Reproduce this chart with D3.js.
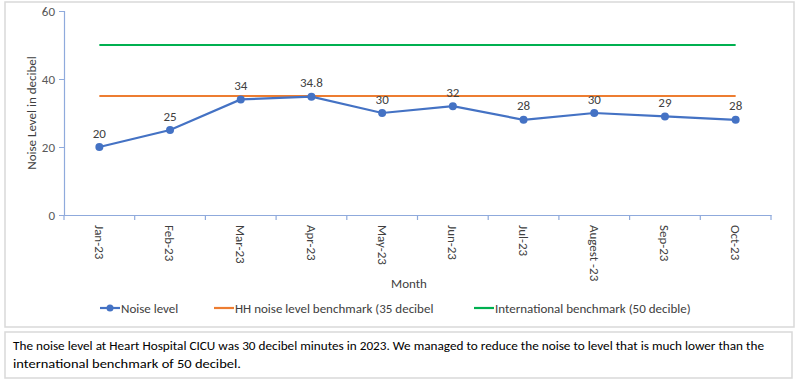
<!DOCTYPE html>
<html><head><meta charset="utf-8">
<script src="https://cdn.jsdelivr.net/npm/d3@7"></script>
<style>body{margin:0;background:#fff;}svg{display:block;}</style>
</head><body>
<svg id="c" width="800" height="381"></svg>
<script>
const months = ["Jan-23","Feb-23","Mar-23","Apr-23","May-23","Jun-23","Jul-23","Augest -23","Sep-23","Oct-23"];
const noiseLevel = [20,25,34,34.8,30,32,28,30,29,28];
const hhBenchmark = [35,35,35,35,35,35,35,35,35,35];
const intlBenchmark = [50,50,50,50,50,50,50,50,50,50];
const yTicks = [0,20,40,60];
const legendLabels = ["Noise level","HH noise level benchmark (35 decibel","International benchmark (50 decible)"];
const note = ["The noise level at Heart Hospital CICU was 30 decibel minutes in 2023. We managed to reduce the noise to level that is much lower than the","international benchmark of 50 decibel."];

const font = "Calibri, Carlito, 'Open Sans', 'Noto Sans', sans-serif";
const svg = d3.select("#c");
// chart border
svg.append("rect").attr("x",5).attr("y",2).attr("width",789).attr("height",325)
  .attr("fill","#fff").attr("stroke","#d9d9d9").attr("stroke-width",1.5);
svg.append("rect").attr("x",5).attr("y",332).attr("width",787).attr("height",46)
  .attr("fill","#fff").attr("stroke","#d9d9d9").attr("stroke-width",1.5);

const x = d3.scaleBand().domain(months).range([64,771]);
const y = d3.scaleLinear().domain([0,60]).range([215,11]);
const cx = d => x(d) + x.bandwidth()/2;

// y axis
const ya = svg.append("g").attr("transform","translate(64,0)")
  .call(d3.axisLeft(y).tickValues(yTicks).tickSize(5).tickPadding(4));
ya.select(".domain").attr("stroke","#8faadc").attr("stroke-width",1.2);
ya.selectAll(".tick line").attr("stroke","#8faadc");
ya.selectAll("text").attr("fill","#595959").style("font-family",font).style("font-size","13px");

// x axis
const xa = svg.append("g").attr("transform","translate(0,215)")
  .call(d3.axisBottom(x).tickSize(0).tickPadding(0));
xa.select(".domain").attr("stroke","#8faadc").attr("stroke-width",1.2);
// tick marks at band boundaries
const bounds = months.map(m => x(m)).concat([x.range()[1]]);
xa.selectAll(".bnd").data(bounds).enter().append("line").attr("class","bnd")
  .attr("x1",d=>d).attr("x2",d=>d).attr("y1",0).attr("y2",5).attr("stroke","#8faadc").attr("stroke-width",1.2);
xa.selectAll(".tick text")
  .attr("transform","translate(0,10) rotate(90)")
  .attr("x",0).attr("y",0).attr("dy","0.35em")
  .attr("text-anchor","start")
  .attr("fill","#404040").style("font-family",font).style("font-size","13px");

// axis titles
svg.append("text").attr("transform","translate(31,113) rotate(-90)").attr("text-anchor","middle")
  .attr("dy","0.35em").attr("fill","#404040").style("font-family",font).style("font-size","13px").text("Noise Level in decibel");
svg.append("text").attr("x",409).attr("y",283).attr("text-anchor","middle").attr("dy","0.35em")
  .attr("fill","#404040").style("font-family",font).style("font-size","13px").text("Month");

// benchmark lines
const line = d3.line().x((d,i)=>cx(months[i])).y(d=>y(d));
svg.append("path").datum(intlBenchmark).attr("d",line).attr("fill","none").attr("stroke","#00b050").attr("stroke-width",2.2);
svg.append("path").datum(hhBenchmark).attr("d",line).attr("fill","none").attr("stroke","#ed7d31").attr("stroke-width",2.2);
// noise line
svg.append("path").datum(noiseLevel).attr("d",line).attr("fill","none").attr("stroke","#4472c4").attr("stroke-width",2.2);
svg.selectAll(".pt").data(noiseLevel).enter().append("circle").attr("class","pt")
  .attr("cx",(d,i)=>cx(months[i])).attr("cy",d=>y(d)).attr("r",4).attr("fill","#4472c4");
svg.selectAll(".lbl").data(noiseLevel).enter().append("text").attr("class","lbl")
  .attr("x",(d,i)=>cx(months[i])).attr("y",d=>y(d)-14).attr("dy","0.35em").attr("text-anchor","middle")
  .attr("fill","#404040").style("font-family",font).style("font-size","13px").text(d=>d);

// legend
const legColors = ["#4472c4","#ed7d31","#00b050"];
const legX = [100,214,474];
legendLabels.forEach((t,i)=>{
  const g = svg.append("g").attr("transform",`translate(${legX[i]},308)`);
  g.append("line").attr("x1",0).attr("x2",20).attr("y1",0).attr("y2",0).attr("stroke",legColors[i]).attr("stroke-width",2.2);
  if(i===0) g.append("circle").attr("cx",10).attr("cy",0).attr("r",3.5).attr("fill",legColors[i]);
  g.append("text").attr("x",21).attr("y",0).attr("dy","0.35em").attr("fill","#404040")
    .style("font-family",font).style("font-size","13px").text(t);
});

// note text
svg.selectAll(".note").data(note).enter().append("text").attr("class","note")
  .attr("x",13).attr("y",(d,i)=>345+i*18).attr("dy","0.35em")
  .attr("fill","#000").style("font-family",font).style("font-size","13px")
  .attr("textLength",(d,i)=> i===0 ? 751 : 228).attr("lengthAdjust","spacingAndGlyphs")
  .text(d=>d);
</script>
</body></html>
